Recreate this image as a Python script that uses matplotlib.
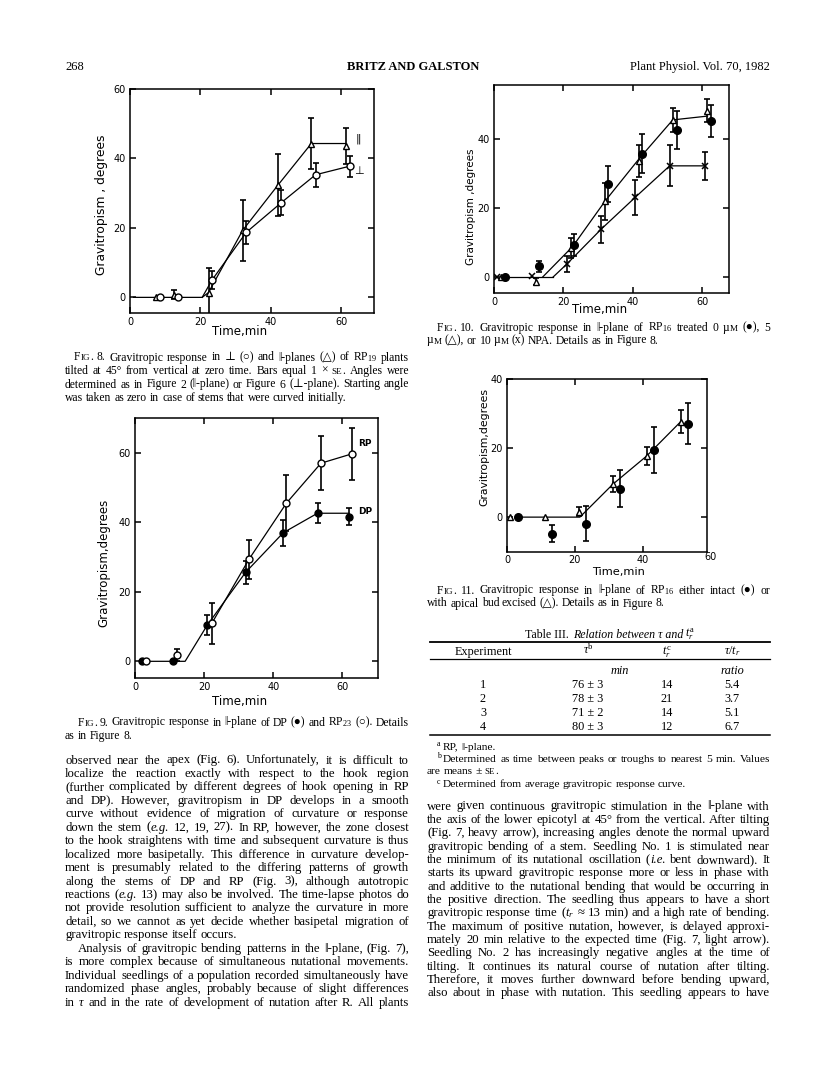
import matplotlib
matplotlib.use('Agg')
import matplotlib.pyplot as plt
from matplotlib.lines import Line2D

# ---------------------------------------------------------------- data
# Fig. 8  (perpendicular plane = circles, parallel plane = triangles)
f8_par_x = [7.3, 12.5, 22.3, 32.0, 42.0, 51.5, 61.3]
f8_par_y = [0.0, 0.7, 1.4, 19.3, 32.3, 44.3, 43.6]
f8_par_e = [0.0, 1.3, 7.0, 8.8, 9.0, 7.4, 5.3]
f8_perp_x = [8.5, 13.5, 23.3, 33.0, 43.0, 52.7, 62.5]
f8_perp_y = [0.0, 0.0, 5.0, 18.7, 27.3, 35.3, 37.8]
f8_perp_e = [0.0, 0.0, 2.6, 3.4, 3.7, 3.4, 3.0]
f8_par_line_x = [1.0, 20.5, 22.3, 32.0, 42.0, 51.5, 61.3]
f8_par_line_y = [0.0, 0.0, 1.4, 19.3, 32.3, 44.3, 44.3]
f8_perp_line_x = [20.5, 23.3, 33.0, 43.0, 52.7, 62.5]
f8_perp_line_y = [0.0, 5.0, 18.7, 27.3, 35.3, 37.8]

# Fig. 9  (DP filled, RP open)
f9_dp_x = [2.0, 11.1, 20.9, 32.0, 42.9, 52.8, 61.9]
f9_dp_y = [0.0, 0.0, 10.4, 25.6, 37.0, 42.6, 41.6]
f9_dp_e = [0.0, 0.0, 2.8, 3.3, 3.7, 2.9, 2.5]
f9_rp_x = [3.1, 12.2, 22.2, 33.0, 43.8, 53.8, 62.8]
f9_rp_y = [0.0, 1.7, 10.9, 29.4, 45.5, 57.0, 59.7]
f9_rp_e = [0.0, 1.7, 6.0, 5.6, 8.0, 7.7, 7.4]
f9_dp_line_x = [3.0, 14.5, 20.9, 32.0, 42.9, 52.8, 61.9]
f9_dp_line_y = [0.0, 0.0, 10.4, 25.6, 37.0, 42.6, 42.6]
f9_rp_line_x = [22.2, 33.0, 43.8, 53.8, 62.8]
f9_rp_line_y = [10.9, 29.4, 45.5, 57.0, 59.7]

# Fig. 10 (0 uM filled, 5 uM triangles, 10 uM x)
f10_c0_x = [3.1, 13.1, 23.0, 32.8, 42.7, 52.7, 62.6]
f10_c0_y = [0.0, 3.1, 9.3, 26.9, 35.7, 42.6, 45.2]
f10_c0_e = [0.0, 1.5, 3.1, 5.3, 5.7, 5.5, 4.6]
f10_c5_x = [2.1, 12.2, 22.1, 31.9, 41.7, 51.5, 61.3]
f10_c5_y = [0.0, -1.3, 8.4, 21.9, 33.7, 45.5, 48.2]
f10_c5_e = [0.0, 1.0, 2.9, 5.3, 4.6, 3.4, 3.4]
f10_c10_x = [0.9, 11.0, 21.0, 30.9, 40.7, 50.6, 60.7]
f10_c10_y = [0.0, 0.3, 3.8, 13.9, 23.1, 32.2, 32.2]
f10_c10_e = [0.0, 0.0, 2.2, 3.9, 5.0, 5.9, 4.0]
f10_base_x = [3.5, 17.0]
f10_base_y = [0.0, 0.0]
f10_lineA_x = [14.0, 22.7, 32.0, 42.0, 51.5, 61.5]
f10_lineA_y = [0.0, 8.9, 22.0, 34.5, 45.5, 46.6]
f10_lineB_x = [17.0, 21.0, 30.9, 40.7, 50.6, 60.7]
f10_lineB_y = [0.0, 3.8, 13.9, 23.1, 32.2, 32.2]

# Fig. 11 (intact filled, excised triangles)
f11_int_x = [3.1, 13.2, 23.4, 33.4, 43.4, 53.5]
f11_int_y = [0.0, -4.8, -1.9, 8.2, 19.4, 27.1]
f11_int_e = [0.0, 2.5, 5.0, 5.4, 6.7, 6.0]
f11_exc_x = [1.0, 11.2, 21.2, 31.2, 41.2, 51.2]
f11_exc_y = [0.0, 0.0, 1.6, 9.5, 17.7, 27.6]
f11_exc_e = [0.0, 0.0, 1.3, 2.3, 2.7, 3.3]
f11_line_x = [3.0, 21.5, 31.2, 41.2, 51.2]
f11_line_y = [0.0, 0.0, 9.5, 17.7, 27.6]

# Table III
tab_exp = ['1', '2', '3', '4']
tab_tau = ['76 ± 3', '78 ± 3', '71 ± 2', '80 ± 3']
tab_tr = ['14', '21', '14', '12']
tab_ratio = ['5.4', '3.7', '5.1', '6.7']

# texts
header_left = '268'
header_mid = 'BRITZ AND GALSTON'
header_right = 'Plant Physiol. Vol. 70, 1982'

cap8 = ['%Fig. 8. Gravitropic response in ⊥ (○) and ‖-planes (△) of RP$_{19}$ plants',
        'tilted at 45° from vertical at zero time. Bars equal 1 × %se. Angles were',
        'determined as in Figure 2 (‖-plane) or Figure 6 (⊥-plane). Starting angle',
        'was taken as zero in case of stems that were curved initially.']
cap9 = ['%Fig. 9. Gravitropic response in ‖-plane of DP (●) and RP$_{23}$ (○). Details',
        'as in Figure 8.']
cap10 = ['%Fig. 10. Gravitropic response in ‖-plane of RP$_{16}$ treated 0 µ%m (●), 5',
         'µ%m (△), or 10 µ%m (x) NPA. Details as in Figure 8.']
cap11 = ['%Fig. 11. Gravitropic response in ‖-plane of RP$_{16}$ either intact (●) or',
         'with apical bud excised (△). Details as in Figure 8.']

body_left = [
    'observed near the apex (Fig. 6). Unfortunately, it is difficult to',
    'localize the reaction exactly with respect to the hook region',
    '(further complicated by different degrees of hook opening in RP',
    'and DP). However, gravitropism in DP develops in a smooth',
    'curve without evidence of migration of curvature or response',
    'down the stem (_e.g._ 12, 19, 27). In RP, however, the zone closest',
    'to the hook straightens with time and subsequent curvature is thus',
    'localized more basipetally. This difference in curvature develop-',
    'ment is presumably related to the differing patterns of growth',
    'along the stems of DP and RP (Fig. 3), although autotropic',
    'reactions (_e.g._ 13) may also be involved. The time-lapse photos do',
    'not provide resolution sufficient to analyze the curvature in more',
    'detail, so we cannot as yet decide whether basipetal migration of',
    'gravitropic response itself occurs.',
    'Analysis of gravitropic bending patterns in the ‖-plane, (Fig. 7),',
    'is more complex because of simultaneous nutational movements.',
    'Individual seedlings of a population recorded simultaneously have',
    'randomized phase angles, probably because of slight differences',
    'in _τ_ and in the rate of development of nutation after R. All plants']

body_right = [
    'were given continuous gravitropic stimulation in the ‖-plane with',
    'the axis of the lower epicotyl at 45° from the vertical. After tilting',
    '(Fig. 7, heavy arrow), increasing angles denote the normal upward',
    'gravitropic bending of a stem. Seedling No. 1 is stimulated near',
    'the minimum of its nutational oscillation (_i.e._ bent downward). It',
    'starts its upward gravitropic response more or less in phase with',
    'and additive to the nutational bending that would be occurring in',
    'the positive direction. The seedling thus appears to have a short',
    'gravitropic response time ($t_r$ ≈ 13 min) and a high rate of bending.',
    'The maximum of positive nutation, however, is delayed approxi-',
    'mately 20 min relative to the expected time (Fig. 7, light arrow).',
    'Seedling No. 2 has increasingly negative angles at the time of',
    'tilting. It continues its natural course of nutation after tilting.',
    'Therefore, it moves further downward before bending upward,',
    'also about in phase with nutation. This seedling appears to have']

foot_marks = ['a', 'b', '', 'c']
foot = ['RP, ‖-plane.',
        'Determined as time between peaks or troughs to nearest 5 min. Values',
        'are means ± %se.',
        'Determined from average gravitropic response curve.']

# ---------------------------------------------------------------- setup
W, H = 816, 1073
plt.rcParams['mathtext.fontset'] = 'custom'
plt.rcParams['mathtext.rm'] = 'Liberation Serif'
plt.rcParams['mathtext.it'] = 'Liberation Serif:italic'
plt.rcParams['mathtext.bf'] = 'Liberation Serif:bold'
plt.rcParams['font.family'] = ['DejaVu Sans']
SERIF = ['Liberation Serif', 'DejaVu Serif', 'DejaVu Sans']
SANS = ['DejaVu Sans']

fig = plt.figure(figsize=(W / 100, H / 100), dpi=100)
fig.patch.set_facecolor('white')
renderer = fig.canvas.get_renderer()


def fx(x):
    return x / W


def fy(y):
    return 1 - y / H


def token_runs(tok, size):
    if '$' in tok:
        return [(tok.replace('%', ''), size, 'normal')]
    runs = []
    italic = False
    small = False
    for ch in tok:
        if ch == '_':
            italic = not italic
            continue
        if ch == '%':
            small = True
            continue
        if small and 'a' <= ch <= 'z':
            r = (ch.upper(), size * 0.78, 'normal')
        else:
            r = (ch, size, 'italic' if italic else 'normal')
        if runs and runs[-1][1:] == r[1:]:
            runs[-1] = (runs[-1][0] + r[0], r[1], r[2])
        else:
            runs.append(r)
    return runs


def make_token(tok, size):
    objs = []
    for s, z, st in token_runs(tok, size):
        t = fig.text(0, 0, s, fontsize=z, fontstyle=st, family=SERIF,
                     ha='left', va='baseline')
        objs.append((t, t.get_window_extent(renderer).width))
    return objs


def text_line(x0, x1, yb, line, size, justify=True, min_gap=2.0):
    words = line.split(' ')
    toks = [make_token(t, size) for t in words]
    widths = [sum(w for _, w in tk) for tk in toks]
    n = len(toks)
    if justify and n > 1 and sum(widths) + (n - 1) * min_gap > (x1 - x0):
        for tk in toks:
            for t, _ in tk:
                t.remove()
        f = (x1 - x0 - (n - 1) * min_gap) / sum(widths)
        size = size * f
        toks = [make_token(t, size) for t in words]
        widths = [sum(w for _, w in tk) for tk in toks]
    if justify and n > 1:
        gap = (x1 - x0 - sum(widths)) / (n - 1)
    else:
        gap = size * 100 / 72 * 0.25
    x = x0
    for tk, w in zip(toks, widths):
        xx = x
        for t, tw in tk:
            t.set_position((fx(xx), fy(yb)))
            xx += tw
        x += w + gap
    return x - gap


def paragraph(x0, x1, y0, dy, lines, size, indents=None, free=()):
    for i, ln in enumerate(lines):
        ind = indents.get(i, 0) if indents else 0
        text_line(x0 + ind, x1, y0 + i * dy, ln, size, justify=(i not in free))


def hrule(x0, x1, y, lw):
    fig.add_artist(Line2D([fx(x0), fx(x1)], [fy(y), fy(y)], color='black', lw=lw))


def make_axes(l, t, r, b, xlim, ylim, xt, yt, fs):
    ax = fig.add_axes([fx(l), fy(b), (r - l) / W, (b - t) / H])
    ax.set_xlim(xlim)
    ax.set_ylim(ylim)
    ax.set_xticks(xt)
    ax.set_yticks(yt)
    ax.tick_params(direction='in', top=True, right=True, length=4.5, width=1.1,
                   labelsize=fs, pad=3, colors='black')
    for s in ax.spines.values():
        s.set_linewidth(1.1)
    ax.set_facecolor('white')
    return ax


def series(ax, x, y, e, marker, filled, ms=5):
    xe = [a for a, k in zip(x, e) if k > 0]
    ye = [a for a, k in zip(y, e) if k > 0]
    ee = [k for k in e if k > 0]
    ax.errorbar(xe, ye, yerr=ee, fmt='none', ecolor='black', elinewidth=1.2,
                capsize=2.3, capthick=1.2, zorder=3)
    if marker == 'x':
        ax.plot(x, y, linestyle='none', marker='x', ms=ms - 1, mew=1.1,
                color='black', zorder=4)
    else:
        ax.plot(x, y, linestyle='none', marker=marker, ms=ms,
                mfc='black' if filled else 'white', mec='black', mew=1.0,
                zorder=4)


def line(ax, x, y):
    ax.plot(x, y, color='black', lw=0.9, zorder=2)


# ---------------------------------------------------------------- header
fig.text(fx(65), fy(70), header_left, fontsize=9, family=SERIF, va='baseline')
fig.text(fx(347), fy(70), header_mid, fontsize=9, family=SERIF,
         weight='bold', va='baseline')
fig.text(fx(770), fy(70), header_right, fontsize=9, family=SERIF,
         va='baseline', ha='right')

# ---------------------------------------------------------------- Fig 8
ax8 = make_axes(130, 89, 374, 313, (0, 69.3), (-4.5, 60), [0, 20, 40, 60],
                [0, 20, 40, 60], 7)
line(ax8, f8_par_line_x, f8_par_line_y)
line(ax8, f8_perp_line_x, f8_perp_line_y)
series(ax8, f8_par_x, f8_par_y, f8_par_e, '^', False)
series(ax8, f8_perp_x, f8_perp_y, f8_perp_e, 'o', False)
ax8.text(65, 45.6, '‖', fontsize=8, ha='center', va='center')
ax8.text(65, 36.4, '⊥', fontsize=8, ha='center', va='center')
fig.text(fx(102), fy(205), 'Gravitropism , degrees', rotation=90, fontsize=8.8,
         ha='center', va='center', family=SANS)
fig.text(fx(240), fy(331), 'Time,min', fontsize=8.5, ha='center', va='center',
         family=SANS)

paragraph(65, 409, 360.5, 13.5, cap8, 8.4, indents={0: 9}, free=(3,))

# ---------------------------------------------------------------- Fig 9
ax9 = make_axes(135, 418, 378, 678, (0, 70.3), (-4.8, 70), [0, 20, 40, 60],
                [0, 20, 40, 60], 7)
line(ax9, f9_dp_line_x, f9_dp_line_y)
line(ax9, f9_rp_line_x, f9_rp_line_y)
series(ax9, f9_dp_x, f9_dp_y, f9_dp_e, 'o', True)
series(ax9, f9_rp_x, f9_rp_y, f9_rp_e, 'o', False)
ax9.text(64.5, 62.8, 'RP', fontsize=6.5, ha='left', va='center', weight='bold')
ax9.text(64.5, 43.1, 'DP', fontsize=6.5, ha='left', va='center', weight='bold')
fig.text(fx(104), fy(563), 'Gravitropism,degrees', rotation=90, fontsize=8.5,
         ha='center', va='center', family=SANS)
fig.text(fx(240), fy(702), 'Time,min', fontsize=8.5, ha='center', va='center',
         family=SANS)

paragraph(65, 409, 725.5, 13.5, cap9, 8.4, indents={0: 13}, free=(1,))

# left body
paragraph(65, 409, 763.5, 13.45, body_left, 9.2, indents={14: 13}, free=(13,))

# ---------------------------------------------------------------- Fig 10
ax10 = make_axes(494, 85, 729, 293, (0, 67.7), (-4.6, 55.6), [0, 20, 40, 60],
                 [0, 20, 40], 7)
line(ax10, f10_base_x, f10_base_y)
line(ax10, f10_lineA_x, f10_lineA_y)
line(ax10, f10_lineB_x, f10_lineB_y)
series(ax10, f10_c10_x, f10_c10_y, f10_c10_e, 'x', False)
series(ax10, f10_c5_x, f10_c5_y, f10_c5_e, '^', False)
series(ax10, f10_c0_x, f10_c0_y, f10_c0_e, 'o', True, ms=5.5)
fig.text(fx(471), fy(207), 'Gravitropism ,degrees', rotation=90, fontsize=7.5,
         ha='center', va='center', family=SANS)
fig.text(fx(600), fy(310), 'Time,min', fontsize=8.5, ha='center', va='center',
         family=SANS)

paragraph(427, 770, 330.5, 13.0, cap10, 8.4, indents={0: 10}, free=(1,))

# ---------------------------------------------------------------- Fig 11
ax11 = make_axes(507, 379, 707, 552, (0, 59), (-10.1, 40), [0, 20, 40],
                 [0, 20, 40], 7)
ax11.tick_params(axis='x', pad=2)
ax11.text(60, -10.1, '60', transform=ax11.transData, fontsize=7,
          ha='center', va='top')
line(ax11, f11_line_x, f11_line_y)
series(ax11, f11_exc_x, f11_exc_y, f11_exc_e, '^', False)
series(ax11, f11_int_x, f11_int_y, f11_int_e, 'o', True, ms=5.5)
fig.text(fx(484), fy(447), 'Gravitropism,degrees', rotation=90, fontsize=7.8,
         ha='center', va='center', family=SANS)
fig.text(fx(618), fy(572), 'Time,min', fontsize=8.2, ha='center', va='center',
         family=SANS)

paragraph(427, 770, 593.5, 13.0, cap11, 8.4, indents={0: 10}, free=(1,))

# ---------------------------------------------------------------- Table III
x = 525
t1 = fig.text(fx(x), fy(637.5), 'Table III.', fontsize=8.6, family=SERIF,
              va='baseline')
x += t1.get_window_extent(renderer).width + 4
t2 = fig.text(fx(x), fy(637.5), 'Relation between τ and', fontsize=8.6,
              family=SERIF, style='italic', va='baseline')
x += t2.get_window_extent(renderer).width + 2
fig.text(fx(x), fy(637.5), '$t_r^\\mathrm{a}$', fontsize=8.6, family=SERIF,
         va='baseline')

hrule(430, 770, 641.5, 1.3)
col_x = [483, 588, 667, 732]
fig.text(fx(col_x[0]), fy(654.5), 'Experiment', fontsize=8.8, family=SERIF,
         ha='center', va='baseline')
fig.text(fx(col_x[1]), fy(654.5), '$τ^\\mathrm{b}$', fontsize=8.8, family=SERIF,
         ha='center', va='baseline')
fig.text(fx(col_x[2]), fy(654.5), '$t_r^\\mathrm{c}$', fontsize=8.8, family=SERIF,
         ha='center', va='baseline')
fig.text(fx(col_x[3]), fy(654.5), '$τ/t_r$', fontsize=8.8, family=SERIF,
         ha='center', va='baseline')
hrule(430, 770, 659, 0.9)
fig.text(fx(620), fy(673.5), 'min', fontsize=8.8, family=SERIF, style='italic',
         ha='center', va='baseline')
fig.text(fx(col_x[3]), fy(673.5), 'ratio', fontsize=8.8, family=SERIF,
         style='italic', ha='center', va='baseline')
for i in range(len(tab_exp)):
    yb = 688.5 + i * 14
    for cx, val in zip(col_x, [tab_exp[i], tab_tau[i], tab_tr[i], tab_ratio[i]]):
        fig.text(fx(cx), fy(yb), val, fontsize=8.8, family=SERIF, ha='center',
                 va='baseline')
hrule(430, 770, 735, 1.1)

# footnotes
foot_x = [443, 443, 427, 443]
foot_y = [749.5, 762, 774.5, 787]
for mk, txt_, fxp, fyp in zip(foot_marks, foot, foot_x, foot_y):
    if mk:
        fig.text(fx(fxp - 6), fy(fyp - 3.5), mk, fontsize=5.8, family=SERIF,
                 ha='left', va='baseline')
    text_line(fxp, 770, fyp, txt_, 8.2, justify=(mk == 'b'))

# right body
paragraph(427, 770, 809.5, 13.35, body_right, 9.2)

fig.savefig('out.png', dpi=100, facecolor='white')
